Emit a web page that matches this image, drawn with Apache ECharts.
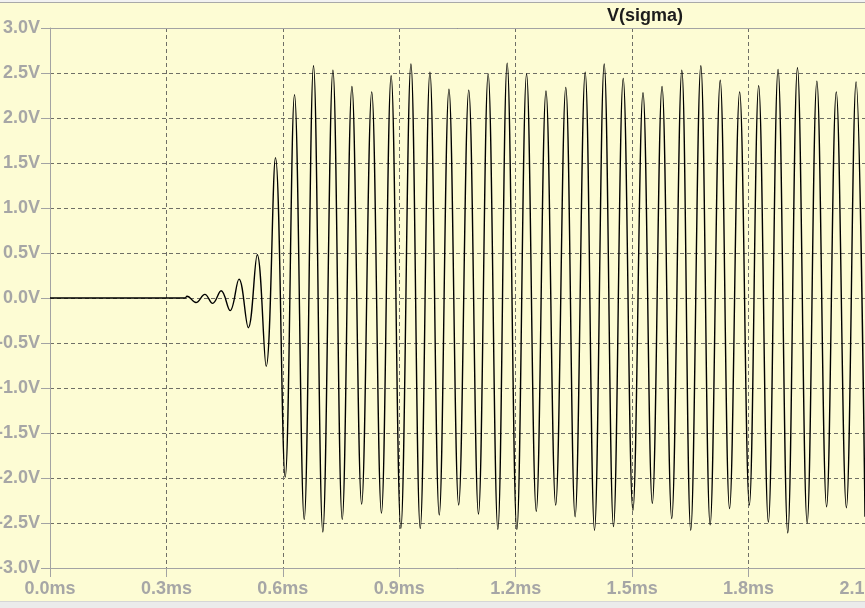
<!DOCTYPE html>
<html><head><meta charset="utf-8">
<script src="https://cdn.jsdelivr.net/npm/echarts@6/dist/echarts.min.js"></script>
<style>html,body{margin:0;padding:0;background:#fdfcd4;}#c{width:865px;height:608px;}</style>
</head><body><div id="c"></div>
<script>
const traceName = 'V(sigma)';
// time (ms) of each extremum of the trace
const timeMs = [
  0, 0.348, 0.353, 0.376, 0.399, 0.419, 0.441, 0.464, 0.487, 0.511, 0.534, 0.557, 0.581,
  0.606, 0.630, 0.655, 0.679, 0.703, 0.729, 0.753, 0.778, 0.803, 0.829,
  0.854, 0.879, 0.904, 0.930, 0.954, 0.979, 1.003, 1.028, 1.053, 1.079,
  1.104, 1.129, 1.154, 1.178, 1.203, 1.228, 1.253, 1.278, 1.303, 1.329,
  1.353, 1.379, 1.403, 1.428, 1.452, 1.477, 1.502, 1.528, 1.552, 1.577,
  1.602, 1.628, 1.651, 1.677, 1.701, 1.727, 1.751, 1.777, 1.802, 1.826,
  1.851, 1.876, 1.901, 1.926, 1.951, 1.976, 2.001, 2.026, 2.052, 2.077, 2.100
];
// voltage (V) at those instants
const volts = [
  0, 0, 0.02, -0.05, 0.04, -0.06, 0.08, -0.14, 0.21, -0.33, 0.48, -0.76, 1.56,
  -1.99, 2.26, -2.46, 2.58, -2.60, 2.53, -2.46, 2.35, -2.29, 2.29,
  -2.39, 2.47, -2.56, 2.60, -2.56, 2.51, -2.41, 2.32, -2.30, 2.31,
  -2.40, 2.49, -2.57, 2.61, -2.57, 2.49, -2.37, 2.30, -2.30, 2.34,
  -2.43, 2.51, -2.58, 2.60, -2.54, 2.44, -2.36, 2.28, -2.28, 2.35,
  -2.45, 2.53, -2.58, 2.58, -2.52, 2.42, -2.34, 2.29, -2.30, 2.36,
  -2.49, 2.54, -2.61, 2.56, -2.50, 2.41, -2.32, 2.29, -2.33, 2.40, -2.43
];
const xTickStep = 0.3, xMax = 2.1;
const yTickStep = 0.5, yMin = -3, yMax = 3;

const pts = timeMs.map((t, i) => [t, volts[i]]);
const gray = '#a3a3a3';
const labelFont = {color: '#a6a6a6', fontFamily: 'Liberation Sans', fontWeight: 'bold', fontSize: 18};
const grid = {type: [4, 3], color: '#6f6f66', width: 1};

const chart = echarts.init(document.getElementById('c'), null, {renderer: 'canvas'});
chart.setOption({
  animation: false,
  backgroundColor: '#fdfcd4',
  title: {
    text: traceName, left: 645, top: 7, textAlign: 'center', padding: 0,
    textStyle: {fontFamily: 'Liberation Sans', fontWeight: 'bold', fontSize: 18, color: '#1c1c1c'}
  },
  grid: {left: 50, right: 0, top: 28, bottom: 40, containLabel: false, outerBoundsMode: 'none'},
  xAxis: [{
    type: 'value', min: 0, max: xMax, interval: xTickStep,
    axisLine: {show: true, onZero: false, lineStyle: {color: gray, width: 1}},
    axisTick: {show: true, length: 9, lineStyle: {color: gray}},
    axisLabel: Object.assign({margin: 12, showMinLabel: true, showMaxLabel: true, hideOverlap: false,
      formatter: v => v.toFixed(1) + 'ms'}, labelFont),
    splitLine: {show: true, lineStyle: grid}
  }, {
    type: 'value', position: 'top', min: 0, max: xMax, interval: xTickStep,
    axisLine: {show: true, onZero: false, lineStyle: {color: gray, width: 1}},
    axisTick: {show: false}, axisLabel: {show: false}, splitLine: {show: false}
  }],
  yAxis: {
    type: 'value', min: yMin, max: yMax, interval: yTickStep,
    axisLine: {show: true, onZero: false, lineStyle: {color: gray, width: 1}},
    axisTick: {show: true, length: 9, lineStyle: {color: gray}},
    axisLabel: Object.assign({margin: 10, formatter: v => v.toFixed(1) + 'V'}, labelFont),
    splitLine: {show: true, lineStyle: grid}
  },
  graphic: [
    {type: 'rect', shape: {x: 0, y: 0, width: 865, height: 2}, style: {fill: '#f2f2f2'}, z: 100},
    {type: 'rect', shape: {x: 0, y: 2, width: 865, height: 1}, style: {fill: '#a9a9a9'}, z: 100},
    {type: 'rect', shape: {x: 0, y: 601, width: 865, height: 7}, style: {fill: '#ebebeb'}, z: 100},
    {type: 'rect', shape: {x: 0, y: 601, width: 865, height: 1}, style: {fill: '#d6d6d6'}, z: 100}
  ],
  series: [{
    name: traceName, type: 'line', data: pts, showSymbol: false, smooth: 0.4,
    lineStyle: {color: '#000', width: 1.4}, silent: true, clip: true
  }]
});
</script></body></html>
